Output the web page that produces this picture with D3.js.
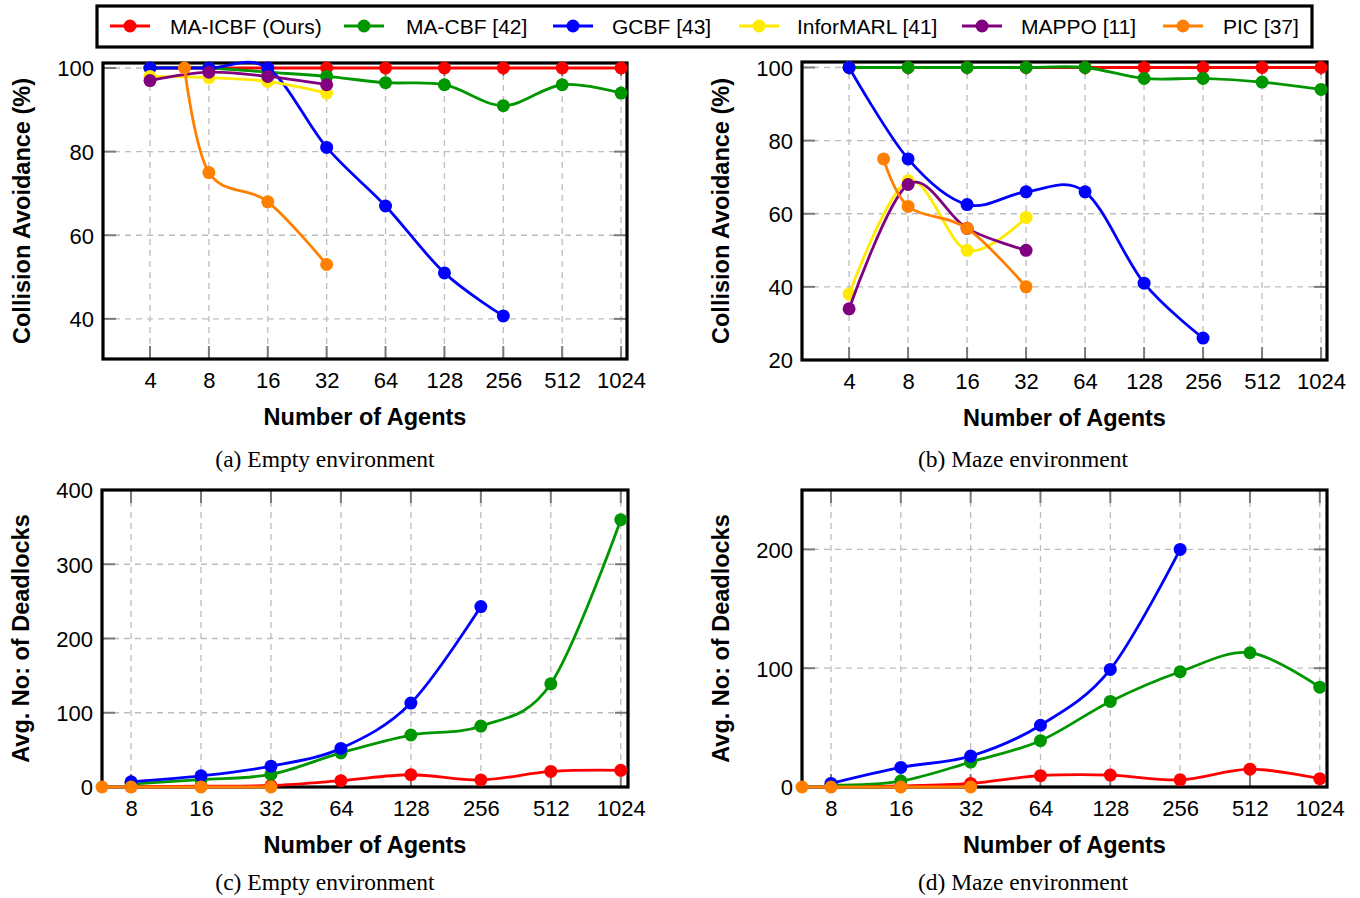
<!DOCTYPE html>
<html>
<head>
<meta charset="utf-8">
<script src="https://cdn.jsdelivr.net/npm/d3@7"></script>
<style>
  html, body { margin: 0; padding: 0; background: #ffffff; }
  svg { display: block; }
</style>
</head>
<body>
<svg id="chart" width="1360" height="898"></svg>
<script>
// ---------------- data ----------------
const seriesNames = ["MA-ICBF (Ours)", "MA-CBF [42]", "GCBF [43]", "InforMARL [41]", "MAPPO [11]", "PIC [37]"];
const seriesColors = ["#ff0000", "#009600", "#0000ff", "#ffea00", "#800080", "#ff8000"];

const agentsTop = [4, 8, 16, 32, 64, 128, 256, 512, 1024];
const agentsBottom = [8, 16, 32, 64, 128, 256, 512, 1024];
const agentsShort = [4, 8, 16, 32];
const agentsPIC = [6, 8, 16, 32];

// (a) Collision avoidance, empty environment
const aRed    = [100, 100, 100, 100, 100, 100, 100, 100, 100];
const aGreen  = [100, 100, 99, 98, 96.5, 96, 91, 96, 94];
const aBlue   = [100, 100, 100, 81, 67, 51, 40.7];
const aYellow = [98, 97.7, 96.8, 94];
const aPurple = [97, 99, 98, 96];
const aOrange = [100, 75, 68, 53];

// (b) Collision avoidance, maze environment
const bRed    = [100, 100, 100, 100, 100, 100, 100, 100, 100];
const bGreen  = [100, 100, 100, 100, 100, 97, 97, 96, 94];
const bBlue   = [100, 75, 62.5, 66, 66, 41, 26];
const bYellow = [38, 69, 50, 59];
const bPurple = [34, 68, 56, 50];
const bOrange = [75, 62, 56, 40];

// (c) Deadlocks, empty environment
const cRed    = [0.5, 1, 2, 8.5, 16.5, 9.5, 21, 22.5];
const cGreen  = [4, 10, 17, 46, 70, 82, 139, 360];
const cBlue   = [7, 15, 28, 52, 113, 243];
const cOrange = [0, 0, 0, 0];

// (d) Deadlocks, maze environment
const dRed    = [0.5, 1, 3, 9.5, 10, 6, 15, 7];
const dGreen  = [1.5, 5, 21, 39, 72, 97, 113, 84];
const dBlue   = [3, 16.5, 26, 52, 99, 200];
const dOrange = [0, 0, 0, 0];

const yTicksA = [40, 60, 80, 100];
const yTicksB = [20, 40, 60, 80, 100];
const yTicksC = [0, 100, 200, 300, 400];
const yTicksD = [0, 100, 200];

// ---------------- drawing ----------------
const svg = d3.select("#chart");
const SANS = "'Liberation Sans', Arial, Helvetica, sans-serif";
const SERIF = "'Liberation Serif', 'Times New Roman', serif";

function zip(xs, ys) { return ys.map((y, i) => [xs[i], y]); }

function panel(cfg) {
  const g = svg.append("g");
  const x = d3.scaleLog().base(2).domain(cfg.xDomain).range([cfg.left, cfg.right]);
  const y = d3.scaleLinear().domain(cfg.yDomain).range([cfg.bottom, cfg.top]);

  // grid
  g.append("g").selectAll("line").data(cfg.xTicks).join("line")
    .attr("x1", d => x(d)).attr("x2", d => x(d))
    .attr("y1", cfg.top).attr("y2", cfg.bottom)
    .attr("stroke", "#bdbdbd").attr("stroke-width", 1.3).attr("stroke-dasharray", "6,5");
  g.append("g").selectAll("line").data(cfg.yTicks).join("line")
    .attr("x1", cfg.left).attr("x2", cfg.right)
    .attr("y1", d => y(d)).attr("y2", d => y(d))
    .attr("stroke", "#bdbdbd").attr("stroke-width", 1.3).attr("stroke-dasharray", "6,5");

  // tick marks (inside, both sides)
  const TL = 13;
  const tk = g.append("g").attr("stroke", "#7a7a7a").attr("stroke-width", 2);
  cfg.xTicks.forEach(d => {
    tk.append("line").attr("x1", x(d)).attr("x2", x(d)).attr("y1", cfg.bottom).attr("y2", cfg.bottom - TL);
    tk.append("line").attr("x1", x(d)).attr("x2", x(d)).attr("y1", cfg.top).attr("y2", cfg.top + TL);
  });
  cfg.yTicks.forEach(d => {
    tk.append("line").attr("x1", cfg.left).attr("x2", cfg.left + TL).attr("y1", y(d)).attr("y2", y(d));
    tk.append("line").attr("x1", cfg.right).attr("x2", cfg.right - TL).attr("y1", y(d)).attr("y2", y(d));
  });

  // frame
  g.append("rect").attr("x", cfg.left).attr("y", cfg.top)
    .attr("width", cfg.right - cfg.left).attr("height", cfg.bottom - cfg.top)
    .attr("fill", "none").attr("stroke", "#000").attr("stroke-width", 3.2);

  // tick labels via d3 axes
  const xAxis = d3.axisBottom(x).tickValues(cfg.xTicks).tickFormat(d3.format("d")).tickSize(0).tickPadding(0);
  const xa = g.append("g").attr("transform", `translate(0,${cfg.bottom})`).call(xAxis);
  xa.select(".domain").remove();
  xa.selectAll("text").attr("font-family", SANS).attr("font-size", 22).attr("fill", "#000")
    .attr("dy", null).attr("y", 29);

  const yAxis = d3.axisLeft(y).tickValues(cfg.yTicks).tickFormat(d3.format("d")).tickSize(0).tickPadding(0);
  const ya = g.append("g").attr("transform", `translate(${cfg.left - 9},0)`).call(yAxis);
  ya.select(".domain").remove();
  ya.selectAll("text").attr("font-family", SANS).attr("font-size", 22).attr("fill", "#000")
    .attr("dy", "0.36em").attr("x", 0);

  // series
  const line = d3.line().x(d => x(d[0])).y(d => y(d[1])).curve(d3.curveCardinal.tension(0));
  cfg.series.forEach(s => {
    const pts = zip(s.xs, s.ys);
    const sg = g.append("g");
    sg.append("path").attr("d", line(pts)).attr("fill", "none")
      .attr("stroke", seriesColors[s.i]).attr("stroke-width", 2.8);
    sg.selectAll("circle").data(pts).join("circle")
      .attr("cx", d => x(d[0])).attr("cy", d => y(d[1])).attr("r", 6.5)
      .attr("fill", seriesColors[s.i]);
  });

  // titles
  const cx = (cfg.left + cfg.right) / 2;
  g.append("text").attr("x", cx).attr("y", cfg.bottom + 66).attr("text-anchor", "middle")
    .attr("font-family", SANS).attr("font-weight", "bold").attr("font-size", 23.5).text("Number of Agents");
  g.append("text").attr("transform", `translate(${cfg.left - 73},${(cfg.top + cfg.bottom) / 2}) rotate(-90)`)
    .attr("text-anchor", "middle").attr("font-family", SANS).attr("font-weight", "bold")
    .attr("font-size", 23.5).text(cfg.ylabel);
  g.append("text").attr("x", cfg.captionX).attr("y", cfg.captionY).attr("text-anchor", "middle")
    .attr("font-family", SERIF).attr("font-size", 23.5).text(cfg.caption);
}

panel({
  left: 103, right: 627, top: 63, bottom: 359,
  xDomain: [2.3, 1098], yDomain: [30.4, 101.2],
  xTicks: agentsTop, yTicks: yTicksA,
  ylabel: "Collision Avoidance (%)", caption: "(a) Empty environment", captionX: 325, captionY: 467,
  series: [
    { i: 0, xs: agentsTop, ys: aRed },
    { i: 1, xs: agentsTop, ys: aGreen },
    { i: 2, xs: agentsTop, ys: aBlue },
    { i: 3, xs: agentsShort, ys: aYellow },
    { i: 4, xs: agentsShort, ys: aPurple },
    { i: 5, xs: agentsPIC, ys: aOrange }
  ]
});

panel({
  left: 802, right: 1327, top: 62, bottom: 360,
  xDomain: [2.3, 1098], yDomain: [20, 101.5],
  xTicks: agentsTop, yTicks: yTicksB,
  ylabel: "Collision Avoidance (%)", caption: "(b) Maze environment", captionX: 1023, captionY: 467,
  series: [
    { i: 0, xs: agentsTop, ys: bRed },
    { i: 1, xs: agentsTop, ys: bGreen },
    { i: 2, xs: agentsTop, ys: bBlue },
    { i: 3, xs: agentsShort, ys: bYellow },
    { i: 4, xs: agentsShort, ys: bPurple },
    { i: 5, xs: agentsPIC, ys: bOrange }
  ]
});

panel({
  left: 102, right: 628, top: 490, bottom: 787,
  xDomain: [6, 1100], yDomain: [0, 400],
  xTicks: agentsBottom, yTicks: yTicksC,
  ylabel: "Avg. No: of Deadlocks", caption: "(c) Empty environment", captionX: 325, captionY: 890,
  series: [
    { i: 0, xs: agentsBottom, ys: cRed },
    { i: 1, xs: agentsBottom, ys: cGreen },
    { i: 2, xs: agentsBottom, ys: cBlue },
    { i: 5, xs: agentsPIC, ys: cOrange }
  ]
});

panel({
  left: 802, right: 1327, top: 490, bottom: 787,
  xDomain: [6, 1100], yDomain: [0, 250],
  xTicks: agentsBottom, yTicks: yTicksD,
  ylabel: "Avg. No: of Deadlocks", caption: "(d) Maze environment", captionX: 1023, captionY: 890,
  series: [
    { i: 0, xs: agentsBottom, ys: dRed },
    { i: 1, xs: agentsBottom, ys: dGreen },
    { i: 2, xs: agentsBottom, ys: dBlue },
    { i: 5, xs: agentsPIC, ys: dOrange }
  ]
});

// ---------------- legend ----------------
const legendMarkerX = [130, 364, 573, 759, 982, 1183];
const legendTextX = [170, 406, 612, 797, 1021, 1223];
const lg = svg.append("g");
lg.append("rect").attr("x", 97).attr("y", 6).attr("width", 1215).attr("height", 41)
  .attr("fill", "#fff").attr("stroke", "#000").attr("stroke-width", 3.2);
seriesNames.forEach((name, i) => {
  const mx = legendMarkerX[i];
  lg.append("line").attr("x1", mx - 20).attr("x2", mx + 20).attr("y1", 26).attr("y2", 26)
    .attr("stroke", seriesColors[i]).attr("stroke-width", 2.8);
  lg.append("circle").attr("cx", mx).attr("cy", 26).attr("r", 6.5).attr("fill", seriesColors[i]);
  lg.append("text").attr("x", legendTextX[i]).attr("y", 26).attr("dy", "0.36em")
    .attr("font-family", SANS).attr("font-size", 21).text(name);
});
</script>
</body>
</html>
